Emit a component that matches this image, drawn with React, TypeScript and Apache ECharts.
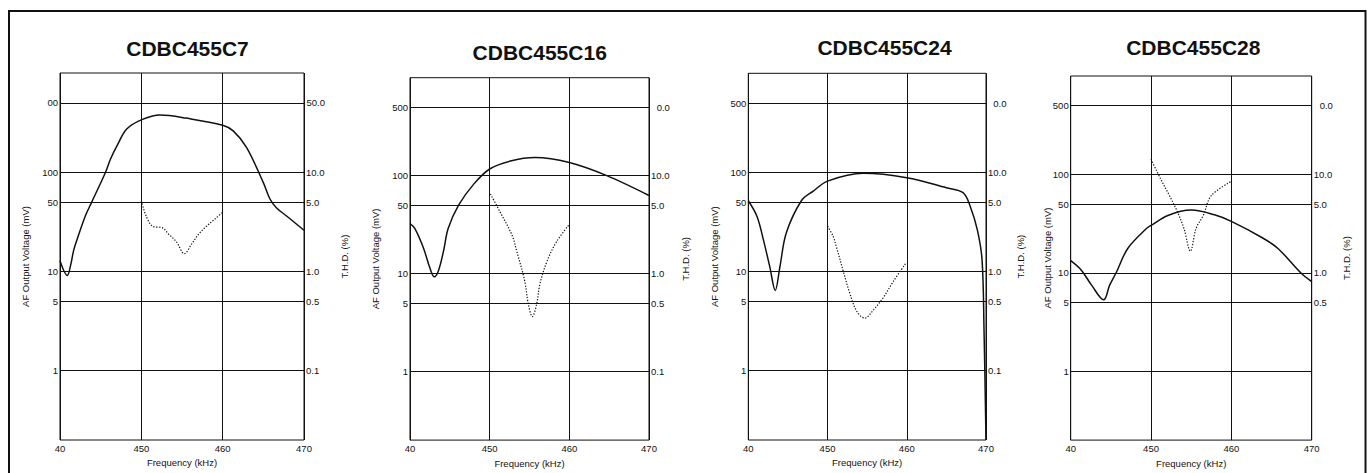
import React, { useEffect, useRef } from "react";
import * as echarts from "echarts";

// ---------- data (frequency kHz, value) ----------
const titles = ["CDBC455C7", "CDBC455C16", "CDBC455C24", "CDBC455C28"];
const freqTicks = [440, 450, 460, 470];
const voltLevels = [500, 100, 50, 10, 5, 1];
const thdLevels = [50, 10, 5, 1, 0.5, 0.1];

const leftLabelsC7 = ["00", "100", "50", "10", "5", "1"];
const leftLabelsOther = ["500", "100", "50", "10", "5", "1"];
const rightLabelsC7 = ["50.0", "10.0", "5.0", "1.0", "0.5", "0.1"];
const rightLabelsMid = ["0.0", "10.0", "5.0", "1.0", "0.5", "0.1"];
const rightLabelsC28 = ["0.0", "10.0", "5.0", "1.0", "0.5", ""];

// AF output voltage (mV)
const c7Output = [
  [440, 12.8], [440.9, 9.1], [441.3, 11.5], [441.7, 16.6], [442.1, 21], [443.1, 36], [443.9, 50],
  [445.6, 100], [446.2, 135], [447, 184], [448.2, 272], [450, 337], [452.3, 377],
  [455.5, 351], [460, 298], [461.3, 261], [462.95, 177], [465, 78.5], [465.8, 54],
  [466.6, 43.8], [467.9, 36], [470, 26],
];
// T.H.D. (%)
const c7Thd = [
  [450, 5.15], [450.6, 3.6], [451.4, 2.85], [452.6, 2.75], [453.3, 2.4], [454.3, 2.0],
  [455.3, 1.51], [456.2, 1.9], [457.1, 2.4], [458, 2.85], [459, 3.35], [460, 3.95],
];

const c16Output = [
  [440, 32.5], [440.6, 29], [441.7, 18.2], [442.5, 11.4], [443.05, 9.3], [443.55, 10.6],
  [444.2, 16.9], [444.8, 29], [446.1, 50], [448, 82], [450, 117], [452.6, 141],
  [455.7, 153], [460, 136], [464.7, 100], [470, 62.7],
];
const c16Thd = [
  [450.1, 6.5], [451.3, 4.27], [452.8, 2.48], [453.4, 1.69], [454.4, 0.84], [454.85, 0.49],
  [455.35, 0.364], [455.9, 0.49], [456.3, 0.78], [457.2, 1.34], [458.4, 2.12], [460, 3.18],
];

const c24Output = [
  [440, 51.8], [441.1, 36], [441.9, 21], [442.7, 11.3], [443.4, 6.45], [444, 11.3],
  [444.8, 24.6], [446.7, 51.8], [448.2, 64.8], [450, 81.8], [454.5, 98], [460, 88.5],
  [465, 70], [467.1, 62.5], [468, 45.7], [468.9, 26.5], [469.5, 13.2], [469.75, 2.6],
  [470, 0.2],
];
const c24Thd = [
  [450, 2.87], [450.7, 2.27], [451.1, 1.8], [452, 1.0], [452.8, 0.607], [453.7, 0.396],
  [454.7, 0.339], [455.8, 0.411], [457, 0.541], [458.3, 0.795], [459.9, 1.22],
];

const c28Output = [
  [440, 13.3], [441.3, 10.7], [442.6, 7.5], [444.1, 5.32], [444.85, 7.5], [445.7, 10.2],
  [447.1, 17.7], [449.4, 28.1], [450, 30.3], [452.1, 38.3], [455, 43.4], [457.9, 38.9],
  [460, 33.3], [463.9, 22.6], [465.8, 17.7], [468.7, 9.9], [470, 8.15],
];
const c28Thd = [
  [450, 14.26], [451.2, 8.98], [452.3, 6.08], [453.3, 4.14], [454.1, 2.82], [454.9, 1.66],
  [455.6, 2.82], [456.5, 3.83], [457.5, 6.08], [459.9, 8.42],
];

// ---------- layout ----------
const FONT = "'Liberation Sans', Arial, Helvetica, sans-serif";
const INK = "#111";

const panels = [
  { title: titles[0], out: c7Output, thd: c7Thd, left: leftLabelsC7, right: rightLabelsC7,
    grid: { left: 60, top: 73, width: 244, height: 367 }, titleXY: [187.5, 48.3], gapL: 30, gapR: 35, firstRightDist: 2.5 },
  { title: titles[1], out: c16Output, thd: c16Thd, left: leftLabelsOther, right: rightLabelsMid,
    grid: { left: 410, top: 77.7, width: 239, height: 367.3 }, titleXY: [539.7, 52], gapL: 30, gapR: 31, firstRightDist: 7.7 },
  { title: titles[2], out: c24Output, thd: c24Thd, left: leftLabelsOther, right: rightLabelsMid,
    grid: { left: 748.3, top: 73.3, width: 237.7, height: 366.7 }, titleXY: [884.5, 47.5], gapL: 29, gapR: 29, firstRightDist: 7.3 },
  { title: titles[3], out: c28Output, thd: c28Thd, left: leftLabelsOther, right: rightLabelsC28,
    grid: { left: 1070.7, top: 76, width: 241, height: 367.3 }, titleXY: [1193.3, 47.2], gapL: 18.5, gapR: 30, firstRightDist: 8 },
];

export default function App() {
  const ref = useRef<HTMLDivElement>(null);
  useEffect(() => {
    if (!ref.current) return;
    const chart = echarts.init(ref.current, undefined, { renderer: "svg" });

    const grids: any[] = [];
    const xAxes: any[] = [];
    const yAxes: any[] = [];
    const series: any[] = [];
    const graphics: any[] = [];

    graphics.push({
      type: "rect",
      silent: true,
      shape: { x: 9, y: 11, width: 1356.5, height: 520 },
      style: { fill: "none", stroke: INK, lineWidth: 2 },
    });

    panels.forEach((p, i) => {
      grids.push({ ...p.grid, show: true, borderColor: INK, borderWidth: 1, backgroundColor: "transparent" });
      xAxes.push({
        type: "value", gridIndex: i, min: freqTicks[0], max: freqTicks[freqTicks.length - 1], interval: 10,
        axisLine: { show: false }, axisTick: { show: false },
        splitLine: { show: true, lineStyle: { color: INK, width: 1 } },
        axisLabel: {
          fontSize: 9.5, color: INK, fontFamily: FONT, margin: 3,
          formatter: (v: number) => (v === 440 ? "40" : String(v)),
        },
        name: "Frequency (kHz)", nameLocation: "middle", nameGap: 9,
        nameTextStyle: { fontSize: 9.5, color: INK, fontFamily: FONT },
      });
      yAxes.push({
        type: "log", logBase: 10, gridIndex: i, min: 0.2, max: 1000, position: "left",
        axisLine: { show: false }, axisTick: { show: false }, axisLabel: { show: false }, splitLine: { show: false },
        name: "AF Output Voltage (mV)", nameLocation: "middle", nameGap: p.gapL, nameRotate: 90,
        nameTextStyle: { fontSize: 9.5, color: INK, fontFamily: FONT },
      });
      yAxes.push({
        type: "log", logBase: 10, gridIndex: i, min: 0.02, max: 100, position: "right",
        axisLine: { show: false }, axisTick: { show: false }, axisLabel: { show: false }, splitLine: { show: false },
        name: "T.H.D. (%)", nameLocation: "middle", nameGap: p.gapR, nameRotate: 90,
        nameTextStyle: { fontSize: 9.5, color: INK, fontFamily: FONT },
      });

      series.push({
        type: "line", xAxisIndex: i, yAxisIndex: 2 * i, data: p.out, showSymbol: false,
        smooth: 0.35,
        lineStyle: { color: INK, width: 1.5 }, itemStyle: { color: INK }, z: 3,
        markLine: {
          silent: true, symbol: "none", z: 1,
          lineStyle: { color: INK, width: 1, type: "solid" },
          label: { position: "start", distance: 2, fontSize: 9.5, color: INK, fontFamily: FONT },
          data: voltLevels.map((v, k) => ({ yAxis: v, label: { formatter: p.left[k] } })),
        },
      });
      series.push({
        type: "line", xAxisIndex: i, yAxisIndex: 2 * i + 1, data: p.thd, showSymbol: false,
        smooth: 0.35,
        lineStyle: { color: INK, width: 1.2, type: [1.3, 1.6] }, itemStyle: { color: INK }, z: 3,
        markLine: {
          silent: true, symbol: "none", z: 1,
          lineStyle: { color: "rgba(0,0,0,0)", width: 1, type: "solid" },
          label: { position: "end", distance: 2, fontSize: 9.5, color: INK, fontFamily: FONT },
          data: thdLevels.map((v, k) => ({
            yAxis: v,
            label: { formatter: p.right[k] === "" ? " " : p.right[k], distance: k === 0 ? p.firstRightDist : 2, color: INK },
          })),
        },
      });

      graphics.push({
        type: "text", silent: true, x: p.titleXY[0], y: p.titleXY[1],
        style: {
          text: p.title, fill: INK, fontSize: 21, fontWeight: "bold", fontFamily: FONT,
          align: "center", verticalAlign: "middle", textAlign: "center", textVerticalAlign: "middle",
        },
      });
    });

    chart.setOption({
      animation: false,
      backgroundColor: "#ffffff",
      textStyle: { fontFamily: FONT },
      grid: grids,
      xAxis: xAxes,
      yAxis: yAxes,
      series,
      graphic: graphics,
    });
    return () => chart.dispose();
  }, []);

  return <div ref={ref} style={{ position: "absolute", left: 0, top: 0, width: 1368, height: 473 }} />;
}
